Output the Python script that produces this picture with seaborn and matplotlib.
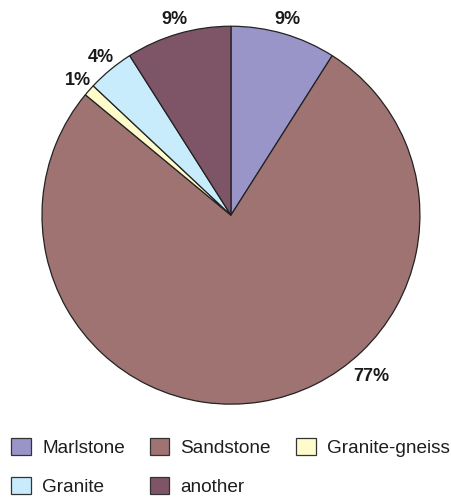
import matplotlib
matplotlib.use("Agg")
import matplotlib.pyplot as plt
import matplotlib.patches as mpatches
import numpy as np
import seaborn as sns

categories = ["Marlstone", "Sandstone", "Granite-gneiss", "Granite", "another"]
shares = [9, 77, 1, 4, 9]
pct_labels = ["9%", "77%", "1%", "4%", "9%"]
colors = ["#9a95c9", "#a07373", "#fffccc", "#c9ecfc", "#7e5566"]

sns.set_theme(style="white")
plt.rcParams["font.family"] = ["Liberation Sans", "DejaVu Sans"]

fig = plt.figure(figsize=(4.51, 4.99), dpi=100)
ax = fig.add_axes([0.0931, 0.19, 0.838, 0.7575])

wedges, _ = ax.pie(shares, colors=colors, startangle=90, counterclock=False,
                   wedgeprops=dict(edgecolor="#222222", linewidth=0.9))
ax.set_xlim(-1, 1)
ax.set_ylim(-1, 1)
ax.set_aspect("equal")

# percentage labels, placed outside the wedges
for w, lab in zip(wedges, pct_labels):
    mid = np.deg2rad((w.theta1 + w.theta2) / 2)
    r = 1.08
    if lab == "77%":
        mid = np.deg2rad(-49)
        r = 1.13
    ax.text(r * np.cos(mid), r * np.sin(mid), lab, ha="center", va="center",
            fontsize=13, fontweight="bold", color="#1a1a1a")

handles = [mpatches.Patch(facecolor=c, edgecolor="#333333", linewidth=0.9, label=l)
           for c, l in zip(colors, categories)]
order = [0, 3, 1, 4, 2]
fig.legend([handles[i] for i in order], [categories[i] for i in order],
           ncol=3, loc="upper left", bbox_to_anchor=(11 / 451, 1 - 438 / 499),
           frameon=False, fontsize=13.7, handlelength=1.05, handleheight=1.0,
           handletextpad=0.58, columnspacing=1.3, labelspacing=1.05,
           borderpad=0, borderaxespad=0, labelcolor="#1e1e1e")

fig.savefig("out.png", dpi=100)
